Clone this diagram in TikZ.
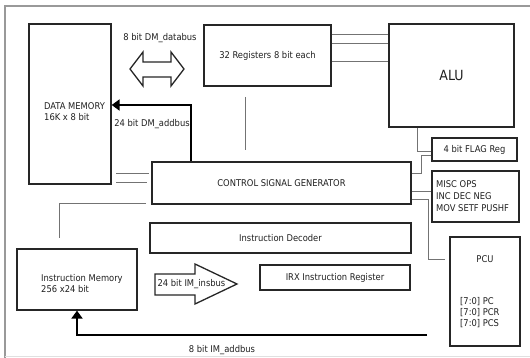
\documentclass[tikz,border=0pt]{standalone}
\usepackage{fontspec}
\setmainfont{DejaVu Sans Condensed}
\usetikzlibrary{arrows.meta}
\definecolor{txt}{gray}{0.12}
\tikzset{
  box/.style={draw=black!85, line width=1.3pt, rectangle, inner sep=0pt, text=txt, font=\fontsize{9.3}{11}\selectfont},
  lbl/.style={text=txt, font=\fontsize{9.3}{11}\selectfont, inner sep=0pt},
  wire/.style={draw=black!55, line width=0.8pt},
  bus/.style={draw=black, line width=2.6pt, -{Triangle[length=8pt,width=11pt]}},
  hollow/.style={draw=black!85, line width=1.3pt, fill=white, line join=miter}
}
\begin{document}
\begin{tikzpicture}[x=1pt,y=-1pt]
\useasboundingbox (0,0) rectangle (530,358);
% outer frame
\draw[black!40, line width=1.4pt] (5,358) -- (5,6) -- (531,6);
\draw[black!12, line width=0.8pt] (5,356) -- (531,356);

% boxes
\node[box, minimum width=82pt, minimum height=160pt] (dm) at (70,104) {};
\node[lbl, align=left, anchor=west] (dmt) at (44,112) {DATA MEMORY\\16K x 8 bit};
\node[box, minimum width=127pt, minimum height=61pt] (reg) at (267.5,55.5) {32 Registers 8 bit each};
\node[box, minimum width=125pt, minimum height=103pt, font=\fontsize{14}{16}\selectfont] (alu) at (451.5,75.5) {ALU};
\node[box, minimum width=85pt, minimum height=23pt] (flag) at (474.5,149.5) {4 bit FLAG Reg};
\node[box, minimum width=87pt, minimum height=51pt] (misc) at (475.5,196.5) {};
\node[lbl, align=left, anchor=west] (misct) at (436,196) {MISC OPS\\[0.8pt]INC DEC NEG\\[0.8pt]MOV SETF PUSHF};
\node[box, minimum width=259pt, minimum height=42pt] (csg) at (281.5,183) {CONTROL SIGNAL GENERATOR};
\node[box, minimum width=261pt, minimum height=30pt] (dec) at (280.5,238) {Instruction Decoder};
\node[box, minimum width=150pt, minimum height=25pt] (irx) at (335,277.5) {IRX Instruction Register};
\node[box, minimum width=120pt, minimum height=61pt] (im) at (77,279.5) {};
\node[lbl, align=left, anchor=west] (imt) at (41,284) {Instruction Memory\\256 x24 bit};
\node[box, minimum width=70pt, minimum height=109pt] (pcu) at (485,291.5) {};
\node[lbl] (pcut) at (485,259) {PCU};
\node[lbl, align=left, anchor=west] (pcur) at (460,312.5) {{[7:0]} PC\\{[7:0]} PCR\\{[7:0]} PCS};

% registers to ALU
\draw[wire] (reg.east |- 0,34) -- (alu.west |- 0,34);
\draw[wire] (reg.east |- 0,43) -- (alu.west |- 0,43);
\draw[wire] (reg.east |- 0,61) -- (alu.west |- 0,61);
% loose wires
\coordinate (v1) at (245,97); \coordinate (v2) at (245,150);
\draw[wire] (v1) -- (v2);
\coordinate (e1) at (116,173); \coordinate (e2) at (149,173);
\coordinate (e3) at (116,182); \coordinate (e4) at (147,182);
\draw[wire] (e1) -- (e2);
\draw[wire] (e3) -- (e4);
\coordinate (l1) at (146,203); \coordinate (l2) at (59,238);
\draw[wire] (l1) -- (l2 |- l1) -- (l2);
% ALU / FLAG / CSG / MISC / PCU
\draw[wire] (alu.south -| 417,0) |- (flag.west |- 0,151);
\draw[wire] (flag.west |- 0,155) -- (421,155) |- (csg.east |- 0,173);
\draw[wire] (csg.east |- 0,191) -- (misc.west |- 0,191);
\coordinate (p1) at (445,259);
\draw[wire] (csg.east |- 0,199) -- (428,199) |- (p1);

% buses
\draw[bus] (csg.north -| 191,0) |- (dm.east |- 0,105);
\node[lbl] (dmadd) at (152,124) {24 bit DM\_addbus};
\coordinate (ia) at (427,335);
\draw[bus] (ia) -| (im.south -| 77,0);
\node[lbl] (imadd) at (222,350) {8 bit IM\_addbus};

% double arrow databus
\draw[hollow] (130,69) -- (143,52) -- (143,62) -- (171,62) -- (171,52) -- (184,69) -- (171,86) -- (171,77) -- (143,77) -- (143,86) -- cycle;
\node[lbl] (dmdata) at (160,38) {8 bit DM\_databus};

% big arrow insbus
\draw[hollow] (155,274) -- (195,274) -- (195,264) -- (237,284) -- (195,304) -- (195,295) -- (155,295) -- cycle;
\node[lbl] (imins) at (191.5,284) {24 bit IM\_insbus};
\end{tikzpicture}
\end{document}
